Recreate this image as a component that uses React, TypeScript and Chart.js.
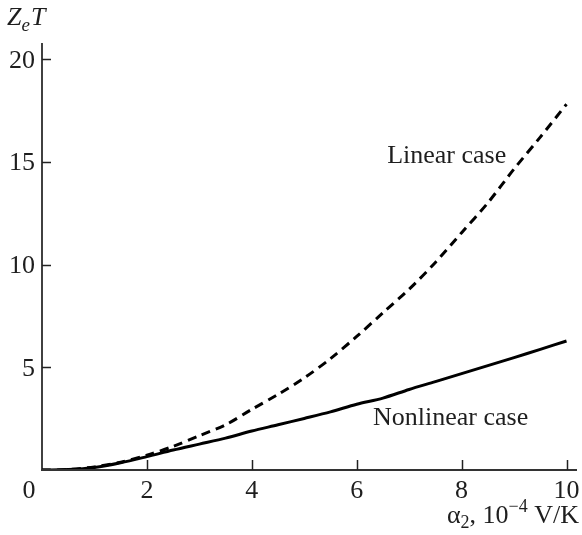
import React, { useEffect, useRef } from "react";
import { Chart, registerables } from "chart.js";

Chart.register(...registerables);

// ---- data ----
const alpha2 = [0, 0.5, 1, 1.5, 2, 2.5, 3, 3.5, 4, 4.5, 5, 5.5, 6, 6.5, 7, 7.5, 8, 8.5, 9, 9.5, 10];
const linearCase = [0, 0.02, 0.15, 0.38, 0.72, 1.15, 1.67, 2.2, 2.95, 3.68, 4.48, 5.42, 6.5, 7.65, 8.8, 10.1, 11.55, 13.0, 14.65, 16.2, 17.8];
const nonlinearCase = [0, 0.02, 0.12, 0.35, 0.65, 0.97, 1.26, 1.55, 1.9, 2.2, 2.51, 2.83, 3.2, 3.5, 3.92, 4.3, 4.69, 5.08, 5.47, 5.87, 6.28];
const xTickValues = [2, 4, 6, 8, 10];
const yTickValues = [5, 10, 15, 20];
const originLabel = "0";
const linearLabel = "Linear case";
const nonlinearLabel = "Nonlinear case";
const linearLabelAt = [6.58, 14.95];
const nonlinearLabelAt = [6.31, 2.2];

const SERIF = "'Liberation Serif', 'Times New Roman', serif";
const TEXT = "#1e1e1e";

const axesPlugin = {
  id: "customAxes",
  afterDraw(chart: any) {
    const { ctx, chartArea, scales } = chart;
    const xs = scales.x;
    const ys = scales.y;
    const left = chartArea.left;
    const bottom = chartArea.bottom;
    ctx.save();

    // axis lines
    ctx.strokeStyle = "#111";
    ctx.lineWidth = 1.6;
    ctx.beginPath();
    ctx.moveTo(left, chartArea.top);
    ctx.lineTo(left, bottom);
    ctx.stroke();
    ctx.strokeStyle = "#333";
    ctx.lineWidth = 2;
    ctx.beginPath();
    ctx.moveTo(left - 1, bottom);
    ctx.lineTo(chartArea.right, bottom);
    ctx.stroke();

    // ticks (inward)
    ctx.lineWidth = 1.5;
    ctx.strokeStyle = "#222";
    xTickValues.forEach((v) => {
      const px = Math.round(xs.getPixelForValue(v)) + 0.5;
      ctx.beginPath();
      ctx.moveTo(px, bottom);
      ctx.lineTo(px, bottom - 10);
      ctx.stroke();
    });
    yTickValues.forEach((v) => {
      const py = Math.round(ys.getPixelForValue(v)) + 0.5;
      ctx.beginPath();
      ctx.moveTo(left, py);
      ctx.lineTo(left + 9, py);
      ctx.stroke();
    });

    // tick labels
    ctx.fillStyle = TEXT;
    ctx.font = `26px ${SERIF}`;
    ctx.textBaseline = "alphabetic";
    ctx.textAlign = "center";
    xTickValues.forEach((v) => {
      ctx.fillText(String(v), xs.getPixelForValue(v), bottom + 28);
    });
    ctx.fillText(originLabel, left - 13, bottom + 28);
    ctx.textAlign = "right";
    yTickValues.forEach((v) => {
      ctx.fillText(String(v), left - 7, ys.getPixelForValue(v) + 8.5);
    });

    // y axis title Z_eT
    ctx.textAlign = "left";
    let x = 7;
    ctx.font = `italic 26px ${SERIF}`;
    ctx.fillText("Z", x, 25);
    x += ctx.measureText("Z").width;
    ctx.font = `italic 19px ${SERIF}`;
    ctx.fillText("e", x, 31);
    x += ctx.measureText("e").width + 1;
    ctx.font = `italic 26px ${SERIF}`;
    ctx.fillText("T", x, 25);

    // x axis title: α2, 10^-4 V/K  (right aligned)
    const parts: [string, number, number][] = [
      ["α", 26, 0],
      ["2", 18, 5],
      [", 10", 26, 0],
      ["−4", 18, -11],
      [" V/K", 26, 0],
    ];
    let total = 0;
    parts.forEach(([t, s]) => {
      ctx.font = `${s}px ${SERIF}`;
      total += ctx.measureText(t).width;
    });
    let tx = 579 - total;
    const base = 523;
    parts.forEach(([t, s, dy]) => {
      ctx.font = `${s}px ${SERIF}`;
      ctx.fillText(t, tx, base + dy);
      tx += ctx.measureText(t).width;
    });

    // curve labels
    ctx.font = `26px ${SERIF}`;
    ctx.fillText(linearLabel, xs.getPixelForValue(linearLabelAt[0]), ys.getPixelForValue(linearLabelAt[1]));
    ctx.fillText(nonlinearLabel, xs.getPixelForValue(nonlinearLabelAt[0]), ys.getPixelForValue(nonlinearLabelAt[1]));

    ctx.restore();
  },
};

export default function App() {
  const canvasRef = useRef<HTMLCanvasElement | null>(null);

  useEffect(() => {
    document.body.style.margin = "0";
    const canvas = canvasRef.current;
    if (!canvas) return;
    const chart = new Chart(canvas, {
      type: "line",
      data: {
        datasets: [
          {
            label: linearLabel,
            data: alpha2.map((a, i) => ({ x: a, y: linearCase[i] })),
            borderColor: "#000",
            borderWidth: 3,
            borderDash: [9, 6],
            pointRadius: 0,
            tension: 0.3,
            fill: false,
          },
          {
            label: nonlinearLabel,
            data: alpha2.map((a, i) => ({ x: a, y: nonlinearCase[i] })),
            borderColor: "#000",
            borderWidth: 3,
            pointRadius: 0,
            tension: 0.3,
            fill: false,
          },
        ],
      },
      options: {
        animation: false,
        responsive: false,
        maintainAspectRatio: false,
        devicePixelRatio: 1,
        layout: { padding: { left: 42, top: 43, right: 5, bottom: 65 } },
        plugins: { legend: { display: false }, tooltip: { enabled: false } },
        scales: {
          x: { type: "linear", min: 0, max: 10.2, display: false },
          y: { type: "linear", min: 0, max: 20.78, display: false },
        },
      },
      plugins: [axesPlugin],
    });
    return () => chart.destroy();
  }, []);

  return (
    <div style={{ position: "fixed", left: 0, top: 0, width: 582, height: 535, background: "#fff" }}>
      <canvas ref={canvasRef} width={582} height={535} style={{ width: 582, height: 535, display: "block" }} />
    </div>
  );
}
